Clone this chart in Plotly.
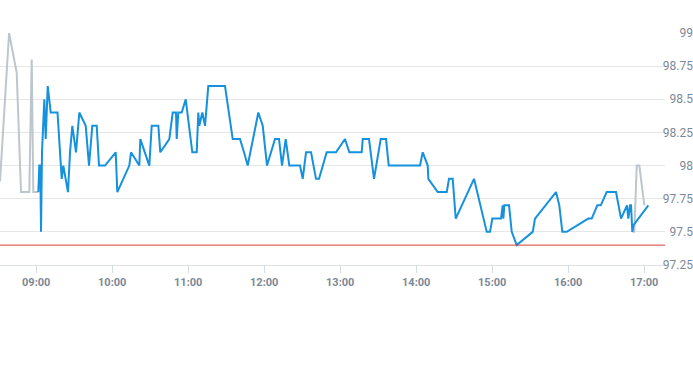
import plotly.graph_objects as go

DAY = "2024-01-02 "

# Grey (raw) series - visible segments
grey_times_a = ["08:31:25", "08:38:35", "08:44:37", "08:48:00", "08:54:33", "08:56:27", "08:57:43", "09:01:40"]
grey_vals_a = [97.88, 99.0, 98.7, 97.8, 97.8, 98.8, 97.8, 97.8]
grey_times_b = ["16:50:36", "16:52:11", "16:54:05", "16:56:08", "17:00:05"]
grey_vals_b = [97.5, 97.5, 98.0, 98.0, 97.7]

# Blue series
blue_times = [
    "09:01:40", "09:02:27", "09:03:14", "09:03:47", "09:04:35", "09:06:24", "09:07:30", "09:09:05",
    "09:11:27", "09:16:49", "09:20:08", "09:21:24", "09:25:06", "09:26:41", "09:28:30", "09:31:25",
    "09:34:02", "09:39:05", "09:41:41", "09:44:17", "09:47:46", "09:49:35", "09:54:19", "10:02:46",
    "10:04:02", "10:13:30", "10:14:50", "10:21:24", "10:22:11", "10:29:17", "10:31:11", "10:36:24",
    "10:37:58", "10:45:05", "10:47:46", "10:50:22", "10:50:55", "10:52:11", "10:54:52", "10:58:02",
    "11:03:14", "11:06:43", "11:07:58", "11:08:46", "11:11:08", "11:13:16", "11:15:52", "11:29:03",
    "11:35:08", "11:40:53", "11:44:03", "11:46:58", "11:55:20", "11:58:49", "12:02:13", "12:08:32",
    "12:11:41", "12:14:03", "12:16:58", "12:19:49", "12:28:16", "12:30:24", "12:33:00", "12:36:57",
    "12:40:53", "12:43:16", "12:49:20", "12:56:41", "13:03:47", "13:07:11", "13:16:58", "13:17:46",
    "13:22:44", "13:26:41", "13:31:58", "13:36:10", "13:38:17", "14:03:00", "14:05:08", "14:09:05",
    "14:09:33", "14:16:58", "14:24:05", "14:25:53", "14:28:49", "14:31:11", "14:45:38", "14:55:40",
    "14:58:16", "15:00:05", "15:06:57", "15:08:17", "15:08:46", "15:09:33", "15:13:16", "15:15:24",
    "15:19:20", "15:31:58", "15:33:47", "15:50:22", "15:52:58", "15:55:20", "15:58:49", "16:15:52",
    "16:18:33", "16:22:58", "16:25:40", "16:30:23", "16:37:44", "16:41:41", "16:46:25", "16:47:27",
    "16:48:47", "16:49:35", "16:50:36", "16:51:33", "17:03:14",
]
blue_vals = [
    97.8, 98.0, 98.0, 97.5, 98.1, 98.5, 98.2, 98.6,
    98.4, 98.4, 97.9, 98.0, 97.8, 98.1, 98.3, 98.1,
    98.4, 98.3, 98.0, 98.3, 98.3, 98.0, 98.0, 98.1,
    97.8, 98.0, 98.1, 98.0, 98.2, 98.0, 98.3, 98.3,
    98.1, 98.2, 98.4, 98.4, 98.2, 98.4, 98.4, 98.5,
    98.1, 98.1, 98.4, 98.3, 98.4, 98.3, 98.6, 98.6,
    98.2, 98.2, 98.1, 98.0, 98.4, 98.3, 98.0, 98.2,
    98.2, 98.0, 98.2, 98.0, 98.0, 97.9, 98.1, 98.1,
    97.9, 97.9, 98.1, 98.1, 98.2, 98.1, 98.1, 98.2,
    98.2, 97.9, 98.2, 98.2, 98.0, 98.0, 98.1, 98.0,
    97.9, 97.8, 97.8, 97.9, 97.9, 97.6, 97.9, 97.5,
    97.5, 97.6, 97.6, 97.7, 97.6, 97.7, 97.7, 97.5,
    97.4, 97.5, 97.6, 97.8, 97.7, 97.5, 97.5, 97.6,
    97.6, 97.7, 97.7, 97.8, 97.8, 97.6, 97.7, 97.6,
    97.7, 97.7, 97.5, 97.55, 97.7,
]

threshold = 97.4

y_tick_vals = [97.25, 97.5, 97.75, 98, 98.25, 98.5, 98.75, 99]
y_tick_text = ["97.25", "97.5", "97.75", "98", "98.25", "98.5", "98.75", "99"]
x_range = ["08:31:25", "17:16:24"]

def ts(lst):
    return [DAY + t for t in lst]

grey_x = ts(grey_times_a) + [None] + ts(grey_times_b)
grey_y = grey_vals_a + [None] + grey_vals_b

fig = go.Figure()
fig.add_trace(go.Scatter(x=grey_x, y=grey_y, mode="lines",
                         line=dict(color="#bcc6cd", width=2), connectgaps=False,
                         hoverinfo="skip", showlegend=False))
fig.add_trace(go.Scatter(x=ts(blue_times), y=blue_vals, mode="lines",
                         line=dict(color="#1591dd", width=2),
                         showlegend=False))

fig.add_shape(type="line", xref="paper", x0=0, x1=665/693, yref="y", y0=threshold, y1=threshold,
              line=dict(color="#d23c3c", width=1))

fig.update_layout(
    width=693, height=365,
    margin=dict(l=0, r=0, t=33, b=100),
    paper_bgcolor="white", plot_bgcolor="white",
    xaxis=dict(
        domain=[0, 665/693],
        type="date",
        range=ts(x_range),
        tickformat="%H:%M",
        dtick=3600000,
        tick0=DAY + "09:00:00",
        showgrid=False,
        showline=True, linecolor="#dde2e7", linewidth=1,
        ticks="outside", ticklen=7, tickcolor="#d5dbe2", tickwidth=1,
        tickfont=dict(family="Roboto, Open Sans, sans-serif", size=11, color="#7d8896", weight="bold"),
        zeroline=False,
        automargin=False,
    ),
    yaxis=dict(
        range=[97.25, 99],
        tickvals=y_tick_vals, ticktext=y_tick_text,
        anchor="free", position=1, side="left",
        showgrid=True, gridcolor="#e6e6e6", gridwidth=1,
        zeroline=False, showline=False,
        ticks="", ticklabelstandoff=0,
        tickfont=dict(family="Roboto, Open Sans, sans-serif", size=12, color="#7d8896"),
        automargin=False,
    ),
)

fig.write_html("out.html", config={"displayModeBar": False},
               post_script="document.body.style.margin='0';document.body.style.overflow='hidden';")
